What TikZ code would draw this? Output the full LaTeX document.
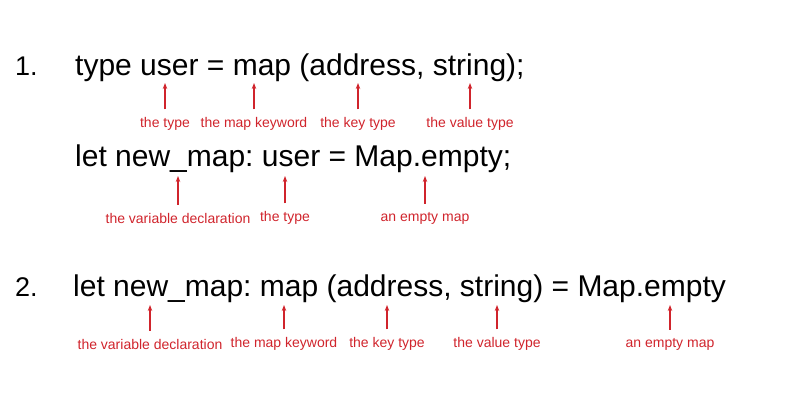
\documentclass[tikz,border=0pt]{standalone}
\usepackage{fontspec}
\setmainfont{Liberation Sans}
\usetikzlibrary{arrows.meta}
\definecolor{notered}{RGB}{208,36,44}
\tikzset{
	code/.style={anchor=base west,inner sep=0pt,font=\fontsize{30}{36}\selectfont\frenchspacing},
	num/.style={anchor=base west,inner sep=0pt,font=\fontsize{27}{32}\selectfont},
	note/.style={inner sep=0pt,text=notered,font=\fontsize{14}{16}\selectfont},
	pointer/.style={notered,line width=1.2pt,-{Stealth[length=6pt,width=4.5pt]}}
}
\begin{document}
\begin{tikzpicture}[x=1pt,y=-1pt]
		\useasboundingbox (0,0) rectangle (800,400);
		%phần 1
		\node[num] (num1) at (15,75) {1.};
		\node[code] (type) at (75,75) {type user = map (address, string);};
		\node[code] (let) at (75,166) {let new\_map: user = Map.empty;};
		\foreach \x/\t/\n in {165/the type/a,254/the map keyword/b,358/the key type/c,470/the value type/d}{
			\coordinate (tip1\n) at (\x,83);
			\node[note] (lbl1\n) at (\x,124) {\t};
			\draw[pointer] ([yshift=8pt]lbl1\n.north) -- (tip1\n);
		}
		\foreach \x/\t/\n in {178/the variable declaration/a,285/the type/b,425/an empty map/c}{
			\coordinate (tip2\n) at (\x,176);
			\node[note] (lbl2\n) at (\x,218) {\t};
			\draw[pointer] ([yshift=8pt]lbl2\n.north) -- (tip2\n);
		}
		%phần 2
		\node[num] (num2) at (15,296) {2.};
		\node[code] (full) at (73,296) {let new\_map: map (address, string) = Map.empty};
		\foreach \x/\t/\n in {150/the variable declaration/a,284/the map keyword/b,387/the key type/c,497/the value type/d,670/an empty map/e}{
			\coordinate (tip3\n) at (\x,305);
			\node[note] (lbl3\n) at (\x,344) {\t};
			\draw[pointer] ([yshift=8pt]lbl3\n.north) -- (tip3\n);
		}
\end{tikzpicture}
\end{document}
